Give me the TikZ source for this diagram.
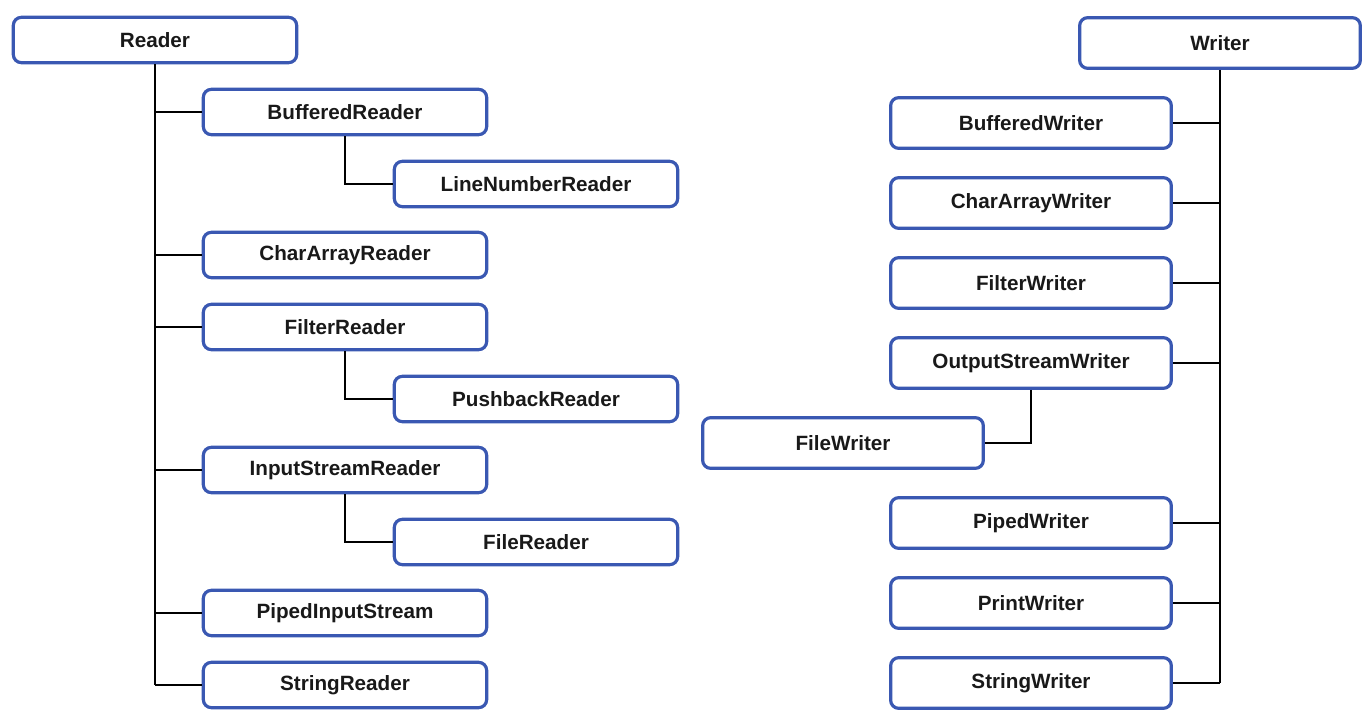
\documentclass[tikz,border=0pt]{standalone}
\usepackage{fontspec}
\setmainfont{Liberation Sans}
\definecolor{boxblue}{RGB}{58,88,178}
\definecolor{txt}{RGB}{25,25,25}
\begin{document}
\begin{tikzpicture}[x=0.75pt,y=-0.75pt,
  lbox/.style={draw=boxblue,line width=2.4pt,rounded corners=6pt,fill=white,
    minimum width=212.5pt,minimum height=34pt,inner sep=0pt,
    font=\fontsize{15.5}{18}\selectfont\bfseries,text=txt},
  wbox/.style={lbox,minimum width=210.5pt,minimum height=38pt},
  conn/.style={line width=1.5pt,black}]
\useasboundingbox (0,0) rectangle (1371,727);
% Reader side
\node[lbox] (R) at (155,40) {Reader};
\node[lbox] (BR) at (345,112) {BufferedReader};
\node[lbox] (LNR) at (536,184) {LineNumberReader};
\node[lbox] (CAR) at (345,255) {CharArrayReader};
\node[lbox] (FR) at (345,327) {FilterReader};
\node[lbox] (PBR) at (536,399) {PushbackReader};
\node[lbox] (ISR) at (345,470) {InputStreamReader};
\node[lbox] (FiR) at (536,542) {FileReader};
\node[lbox] (PIS) at (345,613) {PipedInputStream};
\node[lbox] (SR) at (345,685) {StringReader};
\draw[conn] (R.south) -- (R.south |- SR.west);
\foreach \n in {BR,CAR,FR,ISR,PIS,SR}
  \draw[conn] (R.south |- \n.west) -- (\n.west);
\draw[conn] (BR.south) |- (LNR.west);
\draw[conn] (FR.south) |- (PBR.west);
\draw[conn] (ISR.south) |- (FiR.west);
% Writer side
\node[wbox] (W) at (1220,43) {Writer};
\node[wbox] (BW) at (1031,123) {BufferedWriter};
\node[wbox] (CAW) at (1031,203) {CharArrayWriter};
\node[wbox] (FW) at (1031,283) {FilterWriter};
\node[wbox] (OSW) at (1031,363) {OutputStreamWriter};
\node[wbox] (FiW) at (843,443) {FileWriter};
\node[wbox] (PW) at (1031,523) {PipedWriter};
\node[wbox] (PrW) at (1031,603) {PrintWriter};
\node[wbox] (SW) at (1031,683) {StringWriter};
\draw[conn] (W.south) -- (W.south |- SW.east);
\foreach \n in {BW,CAW,FW,OSW,PW,PrW,SW}
  \draw[conn] (W.south |- \n.east) -- (\n.east);
\draw[conn] (OSW.south) |- (FiW.east);
\end{tikzpicture}
\end{document}
